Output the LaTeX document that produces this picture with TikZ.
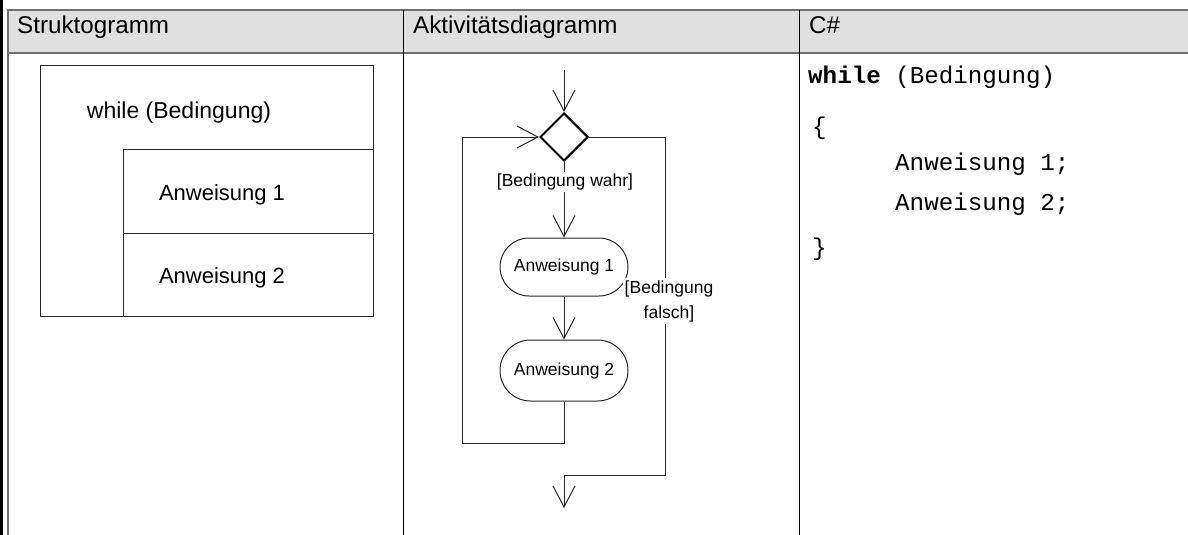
\documentclass[tikz,border=0pt]{standalone}
\usepackage{fontspec}
\setmainfont{Liberation Sans}
\setmonofont{Liberation Mono}
\usetikzlibrary{shapes.geometric,shapes.misc,arrows.meta}
\definecolor{hdrfill}{HTML}{E0E0E0}
\definecolor{hdrline}{HTML}{707070}
\tikzset{
  hdrtext/.style={anchor=base west, inner sep=0pt, font=\fontsize{24.2}{28}\selectfont},
  sgtext/.style={anchor=base, inner sep=0pt, font=\fontsize{22}{26}\selectfont},
  codetext/.style={anchor=base west, inner sep=0pt, font=\ttfamily\fontsize{24.2}{28}\selectfont},
  adline/.style={draw=black!85, line width=1pt},
  adarrow/.style={adline, -{Straight Barb[length=21pt,width=22pt,line width=1pt]}},
  actnode/.style={rounded rectangle, draw=black!85, line width=1pt, minimum width=128pt, inner sep=0pt, font=\fontsize{17.5}{21}\selectfont},
  decnode/.style={diamond, draw=black, line width=2pt, minimum width=48pt, minimum height=48pt, inner sep=0pt},
  guard/.style={fill=white, inner sep=2pt, align=center, font=\fontsize{17.5}{25}\selectfont},
}
\begin{document}
\begin{tikzpicture}[x=1pt,y=-1pt]
\useasboundingbox (0,0) rectangle (1188,535);
% table frame
\fill[hdrfill] (8,10) rectangle (1188,53);
\draw[hdrline, line width=2pt] (1188,10) -- (8,10) -- (8,535);
\draw[hdrline, line width=2pt] (8,53) -- (1188,53);
\fill[black] (0,0) rectangle (3,535);
\draw[black, line width=1pt] (403.5,10) -- (403.5,535);
\draw[black, line width=1pt] (799.5,10) -- (799.5,535);
% headers
\node[hdrtext] (h1) at (17,34) {Struktogramm};
\node[hdrtext] (h2) at (413,34) {Aktivitätsdiagramm};
\node[hdrtext] (h3) at (809,34) {C\#};
% Struktogramm
\draw[black!85, line width=1pt] (40,66) rectangle (373,316);
\draw[black!85, line width=1pt] (123,316) -- (123,149) -- (373,149);
\draw[black!85, line width=1pt] (123,233) -- (373,233);
\node[sgtext, font=\fontsize{23}{27}\selectfont] (sw) at (179,118) {while (Bedingung)};
\node[sgtext] (s1) at (222,200) {Anweisung 1};
\node[sgtext] (s2) at (222,283) {Anweisung 2};
% Aktivitaetsdiagramm
\coordinate (start) at (564,70);
\node[decnode] (dec) at (564,137) {};
\node[actnode, minimum height=58pt] (a1) at (564,267) {Anweisung 1};
\node[actnode, minimum height=61pt] (a2) at (564,370.5) {Anweisung 2};
\coordinate (lb) at (462,443);
\coordinate (lt) at (462,137);
\coordinate (rt) at (665,137);
\coordinate (rb) at (665,475);
\coordinate (mb) at (564,475);
\coordinate (endc) at (564,508);
\draw[adarrow] (start) -- (dec.north);
\draw[adarrow] (dec.south) -- (a1.north);
\draw[adarrow] (a1.south) -- (a2.north);
\draw[adarrow] (a2.south) |- (lb) -- (lt) -- (dec.west);
\draw[adarrow] (dec.east) -- (rt) -- (rb) -- (mb) -- (endc);
\node[guard] (gw) at (565,182) {[Bedingung wahr]};
\node[guard] (gf) at (669,301) {[Bedingung\\falsch]};
% C#
\node[codetext] (c1) at (808,84) {\textbf{while} (Bedingung)};
\node[codetext] (c2) at (812,134) {\{};
\node[codetext] (c3) at (895,170) {Anweisung 1;};
\node[codetext] (c4) at (895,210) {Anweisung 2;};
\node[codetext] (c5) at (812,255) {\}};
\end{tikzpicture}
\end{document}
